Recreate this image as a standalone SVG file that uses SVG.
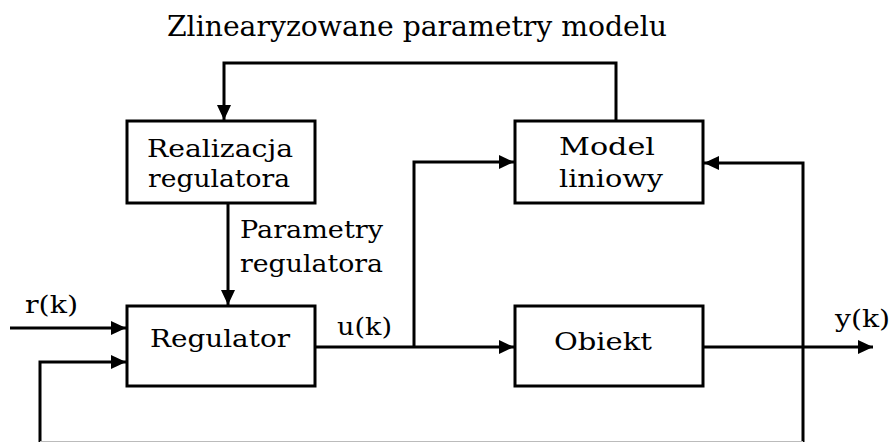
<svg xmlns="http://www.w3.org/2000/svg" width="893" height="442" viewBox="0 0 893 442">
<style>
.box{fill:#fff;stroke:#000;stroke-width:3}
.t{font-family:'DejaVu Serif','Liberation Serif',serif;font-size:25px;fill:#000}
.ti{font-size:27px}
.ln{fill:none;stroke:#000;stroke-width:3}
.ar{marker-end:url(#ah)}
</style>
<defs>
<marker id="ah" markerUnits="userSpaceOnUse" markerWidth="16" markerHeight="16" refX="15" refY="8" orient="auto">
<path d="M0,1 L15,8 L0,15 z" fill="#000"/>
</marker>
</defs>
<rect width="893" height="442" fill="#fff"/>
<text class="t ti" x="167" y="36" textLength="500" lengthAdjust="spacingAndGlyphs">Zlinearyzowane parametry modelu</text>
<g id="connectors">
<path class="ln ar" d="M616,121 V63 H224 V120"/>
<path class="ln ar" d="M228,203 V305"/>
<path class="ln ar" d="M10,328 H126"/>
<path class="ln ar" d="M315,347 H514"/>
<path class="ln ar" d="M414,347 V162 H514"/>
<path class="ln ar" d="M803,442 V163 H704"/>
<path class="ln ar" d="M703,347 H873"/>
<path class="ln ar" d="M40,442 V362 H126"/>
<path d="M40,441.5 H803" fill="none" stroke="#bbb" stroke-width="1"/>
</g>
<g id="realizacja">
<rect class="box" x="127" y="121" width="188" height="82"/>
<text class="t" x="147" y="157" textLength="146" lengthAdjust="spacingAndGlyphs">Realizacja</text>
<text class="t" x="148" y="187" textLength="142" lengthAdjust="spacingAndGlyphs">regulatora</text>
</g>
<g id="model">
<rect class="box" x="515" y="121" width="188" height="82"/>
<text class="t" x="559" y="155" textLength="96" lengthAdjust="spacingAndGlyphs">Model</text>
<text class="t" x="559" y="187" textLength="104" lengthAdjust="spacingAndGlyphs">liniowy</text>
</g>
<g id="regulator">
<rect class="box" x="127" y="306" width="188" height="80"/>
<text class="t" x="150" y="347" textLength="140" lengthAdjust="spacingAndGlyphs">Regulator</text>
</g>
<g id="obiekt">
<rect class="box" x="515" y="306" width="188" height="80"/>
<text class="t" x="554" y="350" textLength="98" lengthAdjust="spacingAndGlyphs">Obiekt</text>
</g>
<g id="labels">
<text class="t" x="240" y="238" textLength="143" lengthAdjust="spacingAndGlyphs">Parametry</text>
<text class="t" x="240" y="272" textLength="143" lengthAdjust="spacingAndGlyphs">regulatora</text>
<text class="t" x="25" y="313" textLength="53" lengthAdjust="spacingAndGlyphs">r(k)</text>
<text class="t" x="337" y="335" textLength="55" lengthAdjust="spacingAndGlyphs">u(k)</text>
<text class="t" x="835" y="327" textLength="55" lengthAdjust="spacingAndGlyphs">y(k)</text>
</g>
</svg>
